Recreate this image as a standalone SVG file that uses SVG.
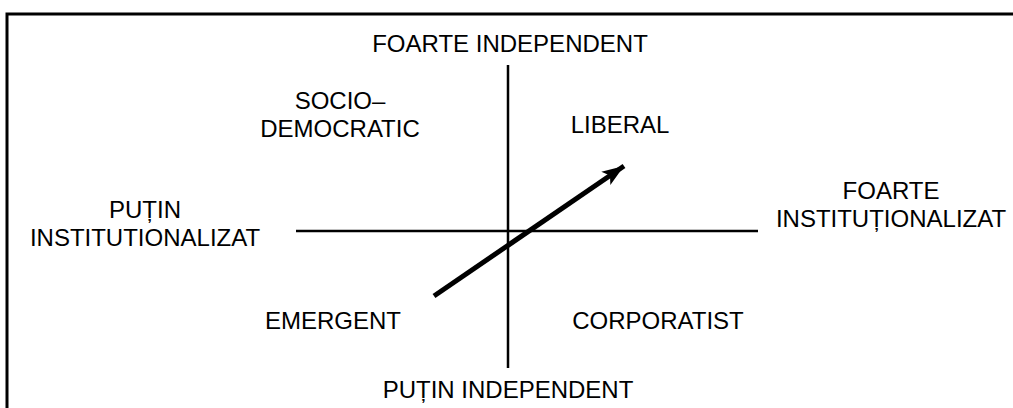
<svg xmlns="http://www.w3.org/2000/svg" width="1013" height="408" viewBox="0 0 1013 408">
<style>
text{font-family:"Liberation Sans",Arial,sans-serif;font-size:24px;fill:#000;text-anchor:middle}
.ax{stroke:#000;stroke-width:2.5;fill:none}
</style>
<defs>
<marker id="ah" markerUnits="userSpaceOnUse" markerWidth="24" markerHeight="20" viewBox="0 0 24 20" refX="22" refY="10" orient="auto">
<path d="M0,2 L22,10 L0,18 L5,10 Z" fill="#000"/>
</marker>
</defs>
<rect width="1013" height="408" fill="#fff"/>
<rect x="7" y="14" width="1100" height="500" fill="none" stroke="#000" stroke-width="3"/>
<g id="connectors">
<line class="ax" x1="508" y1="65" x2="508" y2="368"/>
<line class="ax" x1="296" y1="231" x2="758" y2="231"/>
<line x1="434" y1="296" x2="624" y2="166" stroke="#000" stroke-width="5" marker-end="url(#ah)"/>
</g>
<g id="top"><text x="510" y="52">FOARTE INDEPENDENT</text></g>
<g id="bottom"><text x="508" y="398">PUȚIN INDEPENDENT</text></g>
<g id="left"><text x="145" y="218">PUȚIN</text><text x="145" y="246">INSTITUTIONALIZAT</text></g>
<g id="right"><text x="891" y="199">FOARTE</text><text x="891" y="227">INSTITUȚIONALIZAT</text></g>
<g id="socio"><text x="340" y="109">SOCIO–</text><text x="340" y="137">DEMOCRATIC</text></g>
<g id="liberal"><text x="620" y="133">LIBERAL</text></g>
<g id="emergent"><text x="333" y="329">EMERGENT</text></g>
<g id="corporatist"><text x="658" y="329">CORPORATIST</text></g>
</svg>
